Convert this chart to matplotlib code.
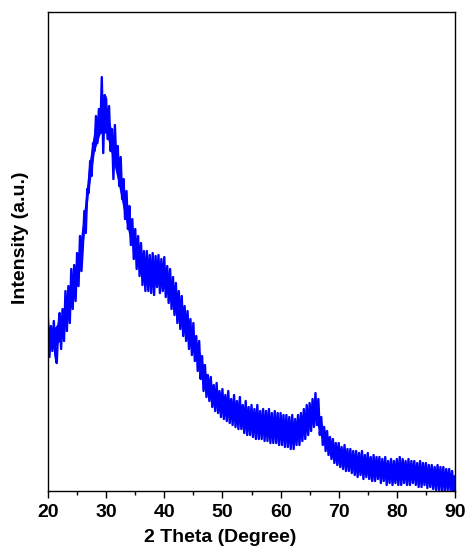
import numpy as np
import matplotlib.pyplot as plt
from matplotlib.ticker import MultipleLocator

# XRD pattern, 0.25 degree steps from 20 to 90
two_theta = np.arange(20, 90.001, 0.25)
intensity = [
    172, 134, 165, 140,   # 20
    170, 136, 128, 162,   # 21
    178, 142, 182, 150,   # 22
    200, 160, 205, 168,   # 23
    222, 182, 226, 190,   # 24
    238, 205, 255, 220,   # 25
    245, 280, 258, 302,   # 26
    298, 330, 315, 348,   # 27
    340, 375, 348, 382,   # 28
    358, 414, 338, 396,   # 29
    392, 352, 385, 340,   # 30
    362, 312, 366, 328,   # 31
    345, 305, 334, 292,   # 32
    312, 272, 300, 262,   # 33
    285, 246, 272, 232,   # 34
    262, 222, 255, 215,   # 35
    248, 206, 240, 200,   # 36
    240, 200, 236, 198,   # 37
    238, 196, 235, 204,   # 38
    236, 198, 232, 200,   # 39
    234, 194, 225, 188,   # 40
    222, 182, 214, 176,   # 41
    208, 168, 200, 162,   # 42
    195, 155, 185, 150,   # 43
    180, 142, 172, 136,   # 44
    168, 130, 155, 120,   # 45
    150, 112, 135, 100,   # 46
    126, 94, 116, 90,     # 47
    114, 84, 106, 80,     # 48
    108, 78, 100, 74,     # 49
    102, 72, 96, 70,      # 50
    100, 68, 92, 66,      # 51
    96, 64, 90, 62,       # 52
    94, 62, 86, 58,       # 53
    90, 56, 84, 56,       # 54
    86, 54, 82, 52,       # 55
    86, 52, 80, 52,       # 56
    82, 50, 80, 50,       # 57
    82, 48, 78, 48,       # 58
    80, 48, 78, 46,       # 59
    78, 46, 76, 44,       # 60
    76, 44, 74, 42,       # 61
    76, 42, 72, 46,       # 62
    76, 46, 78, 50,       # 63
    82, 52, 86, 56,       # 64
    88, 60, 92, 64,       # 65
    98, 66, 92, 56,       # 66
    74, 46, 64, 40,       # 67
    60, 36, 54, 32,       # 68
    52, 28, 48, 26,       # 69
    48, 24, 44, 22,       # 70
    46, 20, 42, 20,       # 71
    42, 18, 40, 16,       # 72
    40, 14, 38, 16,       # 73
    40, 12, 36, 14,       # 74
    38, 12, 34, 10,       # 75
    36, 10, 34, 12,       # 76
    34, 8, 32, 10,        # 77
    34, 6, 30, 8,         # 78
    32, 6, 30, 8,         # 79
    32, 6, 34, 6,         # 80
    32, 8, 30, 6,         # 81
    32, 6, 30, 8,         # 82
    30, 6, 28, 4,         # 83
    30, 4, 28, 6,         # 84
    28, 3, 26, 4,         # 85
    26, 2, 24, 1,         # 86
    26, 1, 24, 0,         # 87
    24, 0, 22, 1,         # 88
    22, 0, 20, 0,         # 89
    10,                   # 90
]

# dense core of the noise band (lower / upper edge), 1 degree steps
band_theta = np.arange(20, 91, 1)
band_low = [142, 143, 150, 168, 187, 206, 244, 300, 340, 358,
            358, 335, 310, 280, 254, 232, 216, 209, 207, 207,
            203, 192, 178, 164, 151, 138, 121, 102, 91, 85,
            80, 76, 72, 69, 65, 62, 61, 59, 57, 56,
            54, 53, 51, 53, 59, 67, 71, 53, 42, 35,
            30, 27, 24, 22, 21, 19, 18, 16, 15, 14,
            14, 14, 14, 13, 12, 10, 9, 7, 6, 5, 4]
band_high = [162, 163, 170, 190, 209, 230, 270, 326, 364, 384,
             382, 360, 334, 302, 276, 254, 238, 231, 229, 229,
             225, 212, 198, 184, 171, 158, 141, 120, 107, 101,
             96, 92, 88, 85, 81, 78, 77, 75, 73, 72,
             70, 69, 67, 69, 75, 83, 89, 69, 56, 47,
             42, 39, 36, 34, 33, 31, 30, 28, 27, 26,
             26, 26, 26, 25, 24, 22, 21, 19, 18, 17, 16]

plt.rcParams['font.family'] = ['Liberation Sans', 'DejaVu Sans']

fig = plt.figure(figsize=(4.67, 5.48), dpi=100)
ax = fig.add_axes([0.1028, 0.104, 0.8715, 0.874])
ax.fill_between(band_theta, band_low, band_high, color='#0000FF', linewidth=0)
ax.plot(two_theta, intensity, color='#0000FF', linewidth=1.7)

ax.set_xlim(20, 90)
ax.set_ylim(0, 479)
ax.xaxis.set_major_locator(MultipleLocator(10))
ax.xaxis.set_minor_locator(MultipleLocator(5))
ax.tick_params(axis='x', which='major', direction='out', length=5, width=1,
               labelsize=14, pad=4)
ax.tick_params(axis='x', which='minor', direction='out', length=3, width=1)
ax.set_yticks([])
for lbl in ax.get_xticklabels():
    lbl.set_fontweight('bold')
for s in ax.spines.values():
    s.set_linewidth(1)

ax.set_xlabel('2 Theta (Degree)', fontsize=14, fontweight='bold')
ax.set_ylabel('Intensity (a.u.)', fontsize=14, fontweight='bold')
ax.xaxis.set_label_coords(0.423, -0.08)
ax.yaxis.set_label_coords(-0.047, 0.528)

fig.savefig('out.png', dpi=100)
